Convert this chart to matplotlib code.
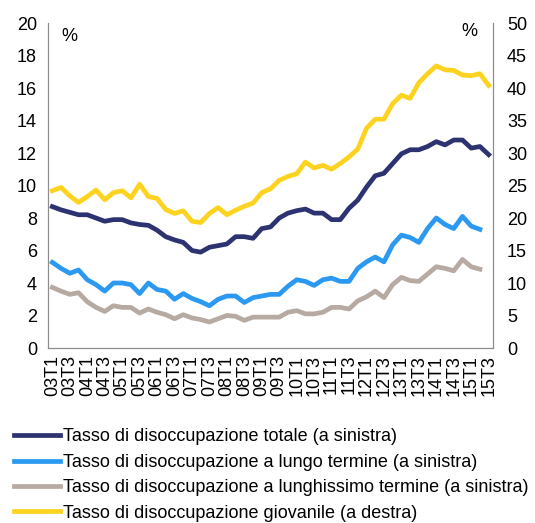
import numpy as np
import matplotlib.pyplot as plt

plt.rcParams['font.family'] = ['Liberation Sans', 'DejaVu Sans']

# trimestri 2003T1 - 2015T3
anni = range(3, 16)
trimestri = [f'{a:02d}T{t}' for a in anni for t in range(1, 5)][:51]

totale = [8.7, 8.5, 8.35, 8.2, 8.2, 8.0, 7.8, 7.9, 7.9, 7.7,
          7.6, 7.55, 7.25, 6.85, 6.65, 6.5, 6.0, 5.9, 6.2, 6.3,
          6.4, 6.85, 6.85, 6.75, 7.35, 7.45, 8.0, 8.3, 8.45, 8.55,
          8.3, 8.3, 7.9, 7.9, 8.6, 9.1, 9.9, 10.6, 10.75, 11.35,
          11.95, 12.2, 12.2, 12.4, 12.7, 12.5, 12.8, 12.8, 12.3, 12.4,
          11.9]
lungo = [5.27, 4.9, 4.6, 4.8, 4.2, 3.9, 3.5, 4.0, 4.0, 3.9,
         3.35, 4.0, 3.6, 3.5, 3.0, 3.35, 3.05, 2.85, 2.6, 3.0,
         3.2, 3.2, 2.8, 3.1, 3.2, 3.3, 3.3, 3.8, 4.2, 4.1,
         3.85, 4.2, 4.3, 4.1, 4.1, 4.9, 5.3, 5.6, 5.3, 6.35,
         6.95, 6.8, 6.5, 7.35, 8.0, 7.6, 7.35, 8.1, 7.5, 7.3,
         np.nan]
lunghissimo = [3.73, 3.5, 3.3, 3.4, 2.85, 2.5, 2.25, 2.6, 2.5, 2.5,
               2.15, 2.4, 2.2, 2.05, 1.8, 2.05, 1.85, 1.75, 1.6, 1.8,
               2.0, 1.95, 1.7, 1.9, 1.9, 1.9, 1.9, 2.2, 2.3, 2.1,
               2.1, 2.2, 2.5, 2.5, 2.4, 2.9, 3.15, 3.5, 3.1, 3.9,
               4.35, 4.15, 4.1, 4.55, 5.0, 4.9, 4.75, 5.45, 5.0, 4.85,
               np.nan]
giovanile = [24.2, 24.7, 23.4, 22.4, 23.3, 24.3, 22.8, 23.9, 24.2, 23.1,
             25.2, 23.3, 23.0, 21.3, 20.7, 21.1, 19.5, 19.3, 20.7, 21.6,
             20.5, 21.2, 21.8, 22.3, 23.9, 24.5, 25.8, 26.4, 26.8, 28.6,
             27.7, 28.1, 27.5, 28.4, 29.4, 30.6, 33.8, 35.2, 35.2, 37.6,
             38.9, 38.4, 40.8, 42.2, 43.4, 42.8, 42.7, 42.0, 41.9, 42.2,
             40.4]

etichette = ['Tasso di disoccupazione totale (a sinistra)',
             'Tasso di disoccupazione a lungo termine (a sinistra)',
             'Tasso di disoccupazione a lunghissimo termine (a sinistra)',
             'Tasso di disoccupazione giovanile (a destra)']
colori = ['#2d3271', '#2b99f2', '#b6aaa2', '#fdd31f']

fig = plt.figure(figsize=(5.35, 5.23), dpi=100)
ax = fig.add_axes([0.0897, 0.3346, 0.8318, 0.6214])
ax2 = ax.twinx()

x = np.arange(len(trimestri))
lw = 3.4
l1, = ax.plot(x, totale, color=colori[0], lw=lw)
l2, = ax.plot(x, lungo, color=colori[1], lw=lw)
l3, = ax.plot(x, lunghissimo, color=colori[2], lw=lw)
l4, = ax2.plot(x, giovanile, color=colori[3], lw=lw)

ax.set_xlim(-0.5, len(x) - 0.5)
ax.set_ylim(0, 20)
ax2.set_ylim(0, 50)
ax.set_yticks(range(0, 21, 2))
ax2.set_yticks(range(0, 51, 5))
ax.set_xticks(x[::2])
ax.set_xticklabels(trimestri[::2], rotation=90)

for a in (ax, ax2):
    a.tick_params(length=0, labelsize=13, colors='black')
    a.spines['top'].set_visible(False)
    for s in ('left', 'right', 'bottom'):
        a.spines[s].set_color('#8c8c8c')
ax.tick_params(axis='y', pad=8)
ax2.tick_params(axis='y', pad=10)
ax.tick_params(axis='x', pad=5)

ax.text(0.031, 0.985, '%', transform=ax.transAxes, fontsize=13, va='top')
ax2.text(0.93, 1.0, '%', transform=ax.transAxes, fontsize=13, va='top')

fig.legend([l1, l2, l3, l4], etichette, loc='upper left',
           bbox_to_anchor=(0.026, 0.181), frameon=False, fontsize=13,
           handlelength=2.55, handletextpad=0.17, labelspacing=0.47,
           borderaxespad=0, borderpad=0)

fig.savefig('out.png', dpi=100)
